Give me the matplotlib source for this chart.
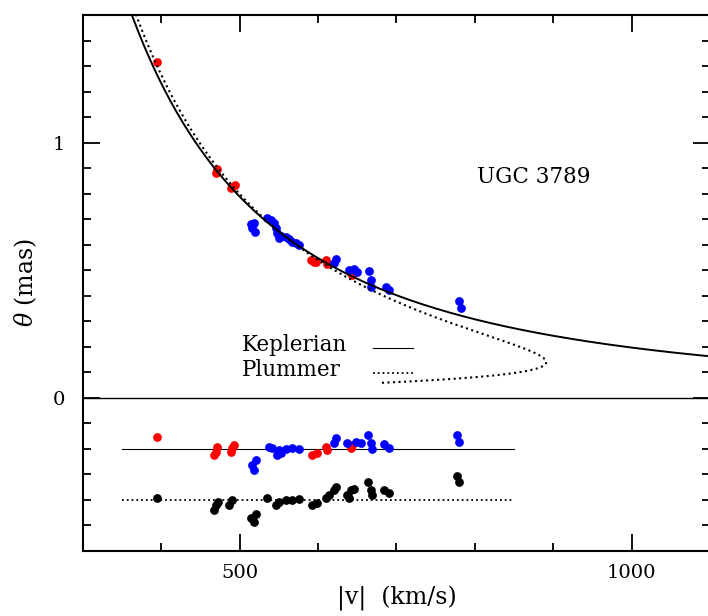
import numpy as np
import matplotlib
matplotlib.use("Agg")
import matplotlib.pyplot as plt
from matplotlib.ticker import MultipleLocator

plt.rcParams["font.family"] = ["DejaVu Serif"]
plt.rcParams["mathtext.fontset"] = "dejavuserif"

# ---- maser spots: angular offset vs. |velocity| ----
red_v = [393.9, 469.3, 470.6, 489.8, 493.6, 488.5, 590.8, 594.6, 597.2, 610.0, 611.3, 642.0, 643.2]
red_theta = [1.314, 0.882, 0.898, 0.827, 0.835, 0.824, 0.541, 0.533, 0.533, 0.541, 0.525, 0.490, 0.482]

blue_v = [514.1, 517.9, 515.3, 519.2, 534.5, 539.6, 543.5, 546.0, 547.3, 549.9, 552.4, 558.8, 562.7,
          566.5, 571.6, 575.4, 622.8, 620.2, 639.4, 645.8, 649.6, 665.0, 667.5, 667.5, 686.7, 690.5,
          780.1, 782.6]
blue_theta = [0.682, 0.686, 0.667, 0.651, 0.706, 0.698, 0.686, 0.667, 0.647, 0.627, 0.635, 0.631, 0.624,
              0.612, 0.608, 0.600, 0.545, 0.529, 0.502, 0.506, 0.494, 0.498, 0.463, 0.435, 0.435, 0.424,
              0.380, 0.353]

# ---- residuals (offset by -0.2 for Keplerian, -0.4 for Plummer) ----
red_res_v = [393.9, 466.8, 470.6, 469.3, 488.5, 492.3, 489.8, 592.1, 598.5, 611.3, 610.0, 642.0, 643.2]
red_res = [-0.153, -0.224, -0.192, -0.212, -0.212, -0.184, -0.196, -0.224, -0.216, -0.204, -0.192, -0.196, -0.184]

blue_res_v = [515.3, 520.5, 517.9, 537.1, 540.9, 549.9, 547.3, 552.4, 558.8, 566.5, 575.4, 622.8, 620.2,
              636.8, 648.3, 654.7, 663.7, 667.5, 668.8, 684.1, 690.5, 777.5, 780.1]
blue_res = [-0.263, -0.243, -0.282, -0.192, -0.196, -0.204, -0.224, -0.216, -0.200, -0.196, -0.200, -0.157,
            -0.176, -0.176, -0.173, -0.176, -0.145, -0.176, -0.200, -0.180, -0.196, -0.145, -0.173]

plum_res_v = [393.9, 466.8, 469.3, 471.9, 485.9, 489.8, 514.1, 517.9, 520.5, 534.5, 546.0, 549.9, 558.8,
              566.5, 575.4, 592.1, 598.5, 610.0, 613.8, 620.2, 622.8, 636.8, 639.4, 642.0, 645.8, 663.7,
              667.5, 668.8, 684.1, 690.5, 777.5, 780.1]
plum_res = [-0.392, -0.439, -0.420, -0.408, -0.420, -0.400, -0.471, -0.486, -0.455, -0.392, -0.420, -0.408,
            -0.400, -0.400, -0.396, -0.420, -0.412, -0.392, -0.380, -0.361, -0.349, -0.380, -0.392, -0.361,
            -0.357, -0.329, -0.361, -0.380, -0.361, -0.373, -0.306, -0.329]

# ---- model parameters ----
K_KEP = 1.97e5        # GM/D in (km/s)^2 mas
K_PLUM = 2.042e5      # Plummer mass term
A_PLUM = 0.099        # Plummer core radius (mas)
KEP_OFFSET = -0.2
PLUM_OFFSET = -0.4
RES_VRANGE = (350, 850)

MS = 6.3

fig = plt.figure(figsize=(7.08, 6.16), dpi=100)
ax = fig.add_axes([83 / 708, 1 - 551 / 616, 627 / 708, 536 / 616])

ax.plot(red_v, red_theta, "o", color="#ff0000", ms=MS, mew=0, zorder=2)
ax.plot(blue_v, blue_theta, "o", color="#0000ff", ms=MS, mew=0, zorder=2)
ax.plot(red_res_v, red_res, "o", color="#ff0000", ms=MS, mew=0, zorder=2)
ax.plot(blue_res_v, blue_res, "o", color="#0000ff", ms=MS, mew=0, zorder=2)
ax.plot(plum_res_v, plum_res, "o", color="black", ms=MS, mew=0, zorder=2)

# Keplerian rotation curve
v = np.linspace(340, 1110, 400)
ax.plot(v, K_KEP / v**2, "-", color="black", lw=1.4, zorder=3)

# Plummer rotation curve (parametrised by radius)
r = np.linspace(0.059, 1.6, 600)
v_pl = np.sqrt(K_PLUM * r**2 / (r**2 + A_PLUM**2) ** 1.5)
ax.plot(v_pl, r, ":", color="black", lw=1.5, zorder=3)

ax.axhline(0, color="black", lw=1.0, zorder=1)
ax.plot(RES_VRANGE, [KEP_OFFSET, KEP_OFFSET], "-", color="black", lw=0.8, zorder=1)
ax.plot(RES_VRANGE, [PLUM_OFFSET, PLUM_OFFSET], ":", color="black", lw=1.3, zorder=1)

ax.set_xlim(300, 1100)
ax.set_ylim(-0.6, 1.5)
ax.xaxis.set_major_locator(MultipleLocator(500))
ax.xaxis.set_minor_locator(MultipleLocator(100))
ax.yaxis.set_major_locator(MultipleLocator(1))
ax.yaxis.set_minor_locator(MultipleLocator(0.1))
ax.tick_params(which="both", direction="in", top=True, right=True, width=1.3, labelsize=14)
ax.tick_params(which="major", length=12)
ax.tick_params(which="minor", length=6)
ax.tick_params(axis="x", pad=9)
ax.tick_params(axis="y", pad=13)
for s in ax.spines.values():
    s.set_linewidth(1.5)

ax.set_xlabel("|v|  (km/s)", fontsize=17, labelpad=3)
ax.set_ylabel(r"$\theta$ (mas)", fontsize=17, labelpad=10)
ax.text(0.628, 0.6866, "UGC 3789", transform=ax.transAxes, fontsize=15.5, va="baseline")

# key: label on the left, line sample on the right
ax.text(0.2536, 0.373, "Keplerian", transform=ax.transAxes, fontsize=15.5, va="baseline")
ax.text(0.2536, 0.3265, "Plummer", transform=ax.transAxes, fontsize=15.5, va="baseline")
ax.plot([0.4625, 0.526], [0.379, 0.379], "-", color="black", lw=0.8, transform=ax.transAxes)
ax.plot([0.4625, 0.526], [0.332, 0.332], ":", color="black", lw=1.3, transform=ax.transAxes)

fig.savefig("out.png", dpi=100)
